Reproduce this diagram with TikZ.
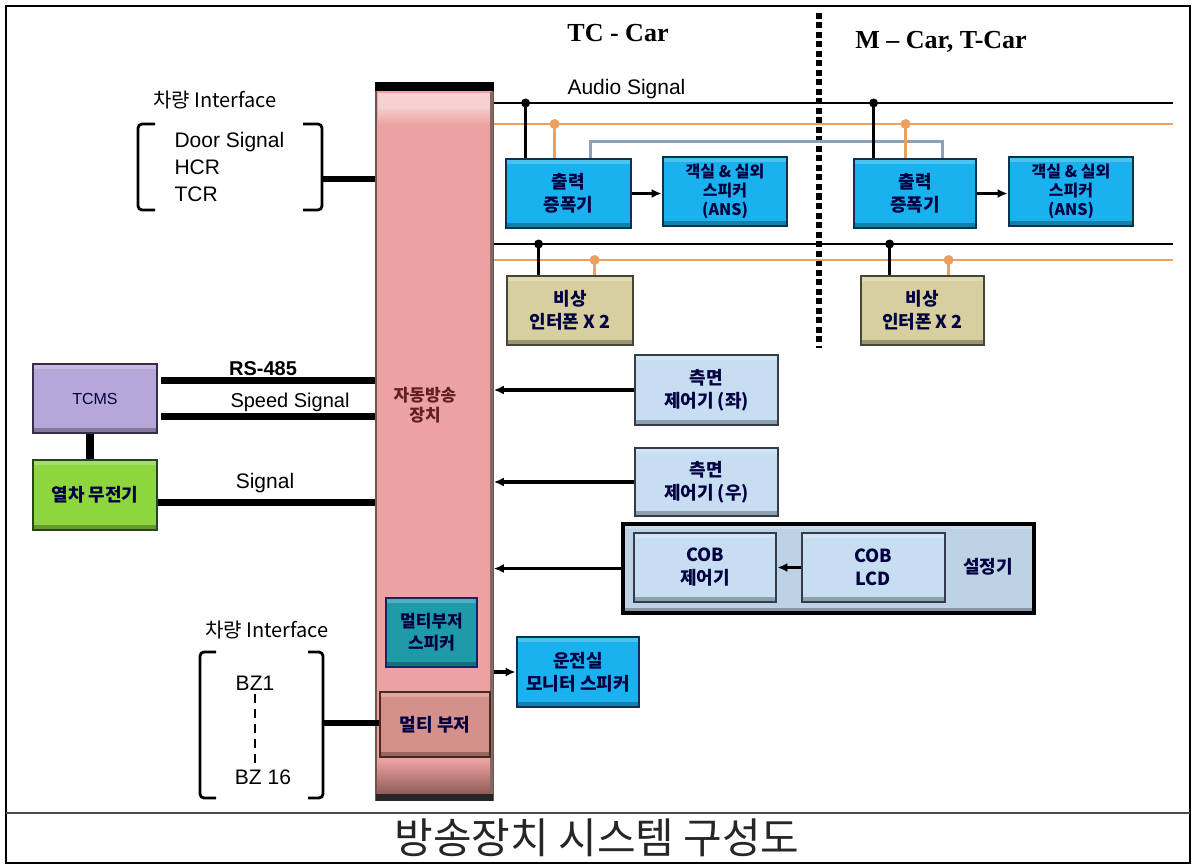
\documentclass[tikz,border=0pt]{standalone}
\usepackage{fontspec}
\setmainfont{Liberation Sans}
\newfontfamily\kr{Noto Sans CJK KR}
\newfontfamily\tms{Liberation Serif}
\usetikzlibrary{arrows.meta,calc}
\definecolor{orgc}{RGB}{235,160,96}
\definecolor{greyblue}{RGB}{140,160,184}
\definecolor{pinkc}{RGB}{237,162,162}
\definecolor{cyanc}{RGB}{26,178,238}
\definecolor{navyc}{RGB}{12,50,80}
\definecolor{khakic}{RGB}{216,207,160}
\definecolor{khakid}{RGB}{70,70,55}
\definecolor{lbluec}{RGB}{198,221,242}
\definecolor{lblued}{RGB}{50,60,75}
\definecolor{setc}{RGB}{190,210,230}
\definecolor{lavc}{RGB}{183,167,217}
\definecolor{lavd}{RGB}{55,45,75}
\definecolor{greenc}{RGB}{142,214,62}
\definecolor{greend}{RGB}{40,70,25}
\definecolor{tealc}{RGB}{30,154,168}
\definecolor{tealb}{RGB}{16,40,96}
\definecolor{rosec}{RGB}{212,144,138}
\definecolor{rosed}{RGB}{74,42,32}
\definecolor{bartext}{RGB}{96,32,32}
\tikzset{
  box/.style 2 args={fill=#1, draw=#2, line width=2.8pt, inner sep=0pt, align=center,
    font=\kr\bfseries\fontsize{18}{23}\selectfont, text=black!75!blue,
    path picture={
      \fill[black,opacity=.28] ([yshift=5pt]path picture bounding box.south west) rectangle (path picture bounding box.south east);
      \fill[white,opacity=.22] (path picture bounding box.north west) rectangle ([yshift=-5pt]path picture bounding box.north east);}},
  bus/.style={line width=2.8pt},
  obus/.style={line width=2.8pt, draw=orgc},
  thick wire/.style={line width=6pt},
  arr/.style={line width=3.2pt, -{Latex[length=10pt,width=9pt]}},
  brk/.style={line width=2.8pt, rounded corners=4pt},
  lat/.style={font=\fontsize{20}{22}\selectfont},
}
\begin{document}
\begin{tikzpicture}[x=1pt,y=-1pt]
\useasboundingbox (0,0) rectangle (1192,864);
\fill[white] (0,0) rectangle (1192,864);

% frame
\draw[line width=1.6pt] (6,6) rectangle (1190,863);
\draw[line width=2pt, black!70] (6,813) -- (1190,813);
\node[font=\kr\fontsize{42}{46}\selectfont, text=black!85] (cap) at (597,838) {방송장치 시스템 구성도};

% car headings
\node[font=\tms\bfseries\fontsize{26}{28}\selectfont] (tc) at (618,33) {TC - Car};
\node[font=\tms\bfseries\fontsize{26}{28}\selectfont] (mc) at (941,42) {M – Car, T-Car};
\draw[line width=6pt, dash pattern=on 6pt off 3.5pt] (819,13) -- (819,348);

% buses
\coordinate (aud0) at (493,103); \coordinate (aud1) at (1173,103);
\coordinate (org0) at (493,124); \coordinate (org1) at (1173,124);
\coordinate (bus0) at (493,244); \coordinate (bus1) at (1173,244);
\coordinate (org2) at (493,260); \coordinate (org3) at (1173,260);
\draw[bus] (aud0) -- (aud1);
\draw[obus] (org0) -- (org1);
\draw[bus] (bus0) -- (bus1);
\draw[obus] (org2) -- (org3);
\node[font=\fontsize{21}{23}\selectfont, anchor=west] (audio) at (564,89) {Audio Signal};

% pink bar
\node[fill=pinkc, draw=rosed!80, line width=1.6pt, minimum width=117pt, minimum height=717pt, inner sep=0pt] (bar) at (434.5,441.5) {};
\fill[pinkc!50!white] (378,93) rectangle (491,118);
\shade[top color=pinkc!60!white, bottom color=pinkc] (378,110) rectangle (491,125);
\fill[black] (bar.north west) rectangle ([yshift=-9pt]bar.north east);
\shade[top color=pinkc, bottom color=rosed!60!pinkc] (377,760) rectangle (492,795);
\fill[black!85] (376,794) rectangle (493,801);
\draw[line width=3pt, rosed!70] (491.5,92) -- (491.5,794);
\node[font=\kr\bfseries\fontsize{17}{20}\selectfont, text=bartext, align=center] (barlbl) at (425,405) {자동방송\\장치};

% TC-car amp/speaker
\node[box={cyanc}{navyc}, minimum width=125pt, minimum height=69pt] (amp1) at (568.5,193.5) {출력\\증폭기};
\node[box={cyanc}{navyc}, minimum width=124pt, minimum height=69pt, font=\kr\bfseries\fontsize{16}{19}\selectfont] (spk1) at (725,191.5) {객실 \& 실외\\스피커\\(ANS)};
\node[box={cyanc}{navyc}, minimum width=122pt, minimum height=69pt] (amp2) at (915,193.5) {출력\\증폭기};
\node[box={cyanc}{navyc}, minimum width=124pt, minimum height=69pt, font=\kr\bfseries\fontsize{16}{19}\selectfont] (spk2) at (1071,191.5) {객실 \& 실외\\스피커\\(ANS)};
\draw[arr] (amp1.east) -- (spk1.west |- amp1.east);
\draw[arr] (amp2.east) -- (spk2.west |- amp2.east);

% emergency intercoms
\node[box={khakic}{khakid}, minimum width=126pt, minimum height=69pt] (emg1) at (570,310.5) {비상\\인터폰 X 2};
\node[box={khakic}{khakid}, minimum width=123pt, minimum height=69pt] (emg2) at (922.5,310.5) {비상\\인터폰 X 2};

% taps
\path ($(amp1.north west)+(21,0)$) coordinate (a1b) ($(amp1.north west)+(50,0)$) coordinate (a1o) ($(amp1.north west)+(86,0)$) coordinate (a1g);
\path ($(amp2.north west)+(21,0)$) coordinate (a2b) ($(amp2.north west)+(53,0)$) coordinate (a2o) ($(amp2.north west)+(90,0)$) coordinate (a2g);
\path ($(emg1.north west)+(33,0)$) coordinate (e1b) ($(emg1.north west)+(89,0)$) coordinate (e1o);
\path ($(emg2.north west)+(30,0)$) coordinate (e2b) ($(emg2.north west)+(89,0)$) coordinate (e2o);
\draw[line width=2.6pt, greyblue] (a1g) -- ++(0,-16) coordinate (g1) -- (g1 -| a2g) -- (a2g);
\foreach \p/\q in {a1b/aud0, a2b/aud0, e1b/bus0, e2b/bus0}{
  \draw[bus] (\p) -- (\p |- \q);
  \fill (\p |- \q) circle (4.5pt);
}
\foreach \p/\q in {a1o/org0, a2o/org0, e1o/org2, e2o/org2}{
  \draw[obus] (\p) -- (\p |- \q);
  \fill[orgc] (\p |- \q) circle (5pt);
}

% side controllers
\node[box={lbluec}{lblued}, minimum width=143pt, minimum height=70pt] (side1) at (706.5,390) {측면\\제어기 (좌)};
\node[box={lbluec}{lblued}, minimum width=143pt, minimum height=68pt] (side2) at (706.5,482) {측면\\제어기 (우)};
\draw[arr] (side1.west) -- (side1.west -| bar.east);
\draw[arr] (side2.west) -- (side2.west -| bar.east);

% setting unit
\node[box={setc}{black}, line width=4pt, minimum width=411pt, minimum height=89pt] (setbox) at (828.5,568.5) {};
\node[box={lbluec}{lblued}, minimum width=142pt, minimum height=69pt] (cob1) at (705,567.5) {COB\\제어기};
\node[box={lbluec}{lblued}, minimum width=143pt, minimum height=69pt] (cob2) at (873.5,567.5) {COB\\LCD};
\node[font=\kr\bfseries\fontsize{18}{20}\selectfont, text=black!75!blue] (setlbl) at (988,567) {설정기};
\draw[arr] (cob2.west) -- (cob1.east);
\draw[arr] (setbox.west) -- (setbox.west -| bar.east);

% multi buzzer
\node[box={tealc}{tealb}, minimum width=91pt, minimum height=69pt, font=\kr\bfseries\fontsize{17}{22}\selectfont] (mbspk) at (431.5,632.5) {멀티부저\\스피커};
\node[box={rosec}{rosed}, minimum width=110pt, minimum height=65pt] (mbz) at (435,724.5) {멀티 부저};
\node[box={cyanc}{navyc}, minimum width=122pt, minimum height=70pt] (drv) at (578,672) {운전실\\모니터 스피커};
\draw[arr] (drv.west -| bar.east) -- (drv.west);

% TCMS / radio
\node[box={lavc}{lavd}, minimum width=124pt, minimum height=69pt, font=\fontsize{16}{18}\selectfont] (tcms) at (95,398.5) {TCMS};
\node[box={greenc}{greend}, minimum width=124pt, minimum height=70pt] (radio) at (95,495) {열차 무전기};
\draw[line width=8pt] ([xshift=-5pt]tcms.south) -- ([xshift=-5pt]radio.north);
\draw[line width=7pt] ($(tcms.north east)+(3,18)$) -- ($(tcms.north east -| bar.west)+(0,18)$);
\draw[line width=7pt] ($(tcms.north east)+(3,54)$) -- ($(tcms.north east -| bar.west)+(0,54)$);
\draw[line width=7pt] ($(radio.north east)+(0,44)$) -- ($(radio.north east -| bar.west)+(0,44)$);
\node[font=\bfseries\fontsize{20}{22}\selectfont] (rs) at (263,369) {RS-485};
\node[lat] (spd) at (290,402) {Speed Signal};
\node[font=\fontsize{21}{23}\selectfont] (sig) at (265,483) {Signal};

% vehicle interface (top)
\node[font=\kr\fontsize{20}{22}\selectfont] (vi1) at (215,100) {차량 Interface};
\draw[brk] (155,124) -- (138,124) -- (138,210) -- (155,210);
\draw[brk] (303,124) -- (322,124) -- (322,210) -- (303,210);
\node[font=\fontsize{21}{23}\selectfont, anchor=west] (door) at (171,142) {Door Signal};
\node[font=\fontsize{21}{23}\selectfont, anchor=west] (hcr) at (171,167) {HCR};
\node[font=\fontsize{21}{23}\selectfont, anchor=west] (tcr) at (171,194) {TCR};
\coordinate (brk1) at (323,179);
\draw[thick wire] (brk1) -- (brk1 -| bar.west);

% vehicle interface (bottom)
\node[font=\kr\fontsize{20}{22}\selectfont] (vi2) at (267,630) {차량 Interface};
\draw[brk] (216,652) -- (200,652) -- (200,798) -- (216,798);
\draw[brk] (308,652) -- (323,652) -- (323,798) -- (308,798);
\node[font=\fontsize{21}{23}\selectfont] (bz1) at (255,683) {BZ1};
\node[font=\fontsize{21}{23}\selectfont] (bz16) at (263,777) {BZ 16};
\draw[line width=2pt, dash pattern=on 9pt off 6pt] (bz1.south) -- (bz1.south |- bz16.north);
\coordinate (brk2) at (324,723);
\draw[thick wire] (brk2) -- (brk2 -| mbz.west);
\end{tikzpicture}
\end{document}
